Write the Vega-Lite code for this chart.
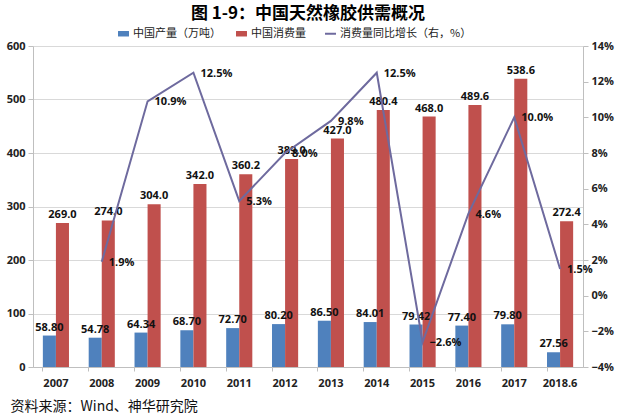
{
  "$schema": "https://vega.github.io/schema/vega-lite/v6.json",
  "width": 550,
  "height": 321,
  "autosize": {"type": "none"},
  "padding": {"left": 33, "top": 46, "right": 37, "bottom": 50},
  "background": "white",
  "title": {
    "text": "图 1-9：中国天然橡胶供需概况",
    "font": "Noto Sans CJK SC",
    "fontSize": 17,
    "fontWeight": "bold",
    "color": "#000000",
    "anchor": "middle",
    "frame": "group",
    "offset": 5
  },
  "config": {
    "view": {"stroke": null},
    "axis": {
      "labelFont": "Open Sans",
      "labelFontWeight": "bold",
      "labelFontSize": 11,
      "labelColor": "#222222",
      "domainColor": "#BFBFBF",
      "tickColor": "#BFBFBF"
    }
  },
  "datasets": {
    "bars": [
      {"year": "2007", "series": "中国产量（万吨）", "value": 58.80},
      {"year": "2007", "series": "中国消费量", "value": 269.0},
      {"year": "2008", "series": "中国产量（万吨）", "value": 54.78},
      {"year": "2008", "series": "中国消费量", "value": 274.0},
      {"year": "2009", "series": "中国产量（万吨）", "value": 64.34},
      {"year": "2009", "series": "中国消费量", "value": 304.0},
      {"year": "2010", "series": "中国产量（万吨）", "value": 68.70},
      {"year": "2010", "series": "中国消费量", "value": 342.0},
      {"year": "2011", "series": "中国产量（万吨）", "value": 72.70},
      {"year": "2011", "series": "中国消费量", "value": 360.2},
      {"year": "2012", "series": "中国产量（万吨）", "value": 80.20},
      {"year": "2012", "series": "中国消费量", "value": 389.0},
      {"year": "2013", "series": "中国产量（万吨）", "value": 86.50},
      {"year": "2013", "series": "中国消费量", "value": 427.0},
      {"year": "2014", "series": "中国产量（万吨）", "value": 84.01},
      {"year": "2014", "series": "中国消费量", "value": 480.4},
      {"year": "2015", "series": "中国产量（万吨）", "value": 79.42},
      {"year": "2015", "series": "中国消费量", "value": 468.0},
      {"year": "2016", "series": "中国产量（万吨）", "value": 77.40},
      {"year": "2016", "series": "中国消费量", "value": 489.6},
      {"year": "2017", "series": "中国产量（万吨）", "value": 79.80},
      {"year": "2017", "series": "中国消费量", "value": 538.6},
      {"year": "2018.6", "series": "中国产量（万吨）", "value": 27.56},
      {"year": "2018.6", "series": "中国消费量", "value": 272.4}
    ],
    "growth": [
      {"year": "2008", "growth": 0.019},
      {"year": "2009", "growth": 0.109},
      {"year": "2010", "growth": 0.125},
      {"year": "2011", "growth": 0.053},
      {"year": "2012", "growth": 0.080},
      {"year": "2013", "growth": 0.098},
      {"year": "2014", "growth": 0.125},
      {"year": "2015", "growth": -0.026},
      {"year": "2016", "growth": 0.046},
      {"year": "2017", "growth": 0.100},
      {"year": "2018.6", "growth": 0.015}
    ]
  },
  "encoding": {
    "x": {
      "field": "year",
      "type": "nominal",
      "sort": null,
      "scale": {
        "domain": ["2007", "2008", "2009", "2010", "2011", "2012", "2013", "2014", "2015", "2016", "2017", "2018.6"],
        "paddingInner": 0.43,
        "paddingOuter": 0.215
      },
      "axis": {
        "title": "资料来源：Wind、神华研究院",
        "titleFont": "Noto Sans CJK SC",
        "titleFontSize": 14,
        "titleFontWeight": "normal",
        "titleColor": "#111111",
        "titleAnchor": "start",
        "titleAlign": "left",
        "titleBaseline": "middle",
        "titleX": -23,
        "titleY": 39,
        "labelAngle": 0,
        "labelPadding": 6,
        "bandPosition": 0,
        "ticks": true,
        "tickSize": 4,
        "grid": false,
        "domainColor": "#BFBFBF"
      }
    }
  },
  "layer": [
    {
      "data": {"name": "bars"},
      "encoding": {
        "xOffset": {
          "field": "series",
          "type": "nominal",
          "sort": ["中国产量（万吨）", "中国消费量"],
          "scale": {"domain": ["中国产量（万吨）", "中国消费量"], "paddingInner": 0, "paddingOuter": 0}
        },
        "y": {
          "field": "value",
          "type": "quantitative",
          "scale": {"domain": [0, 600], "nice": false},
          "axis": {
            "title": null,
            "orient": "left",
            "values": [0, 100, 200, 300, 400, 500, 600],
            "grid": true,
            "gridColor": "#D9D9D9",
            "tickSize": 5,
            "labelPadding": 3,
            "domain": true
          }
        }
      },
      "layer": [
        {
          "mark": {"type": "bar"},
          "encoding": {
            "color": {
              "field": "series",
              "type": "nominal",
              "scale": {
                "domain": ["中国产量（万吨）", "中国消费量", "消费量同比增长（右，%）"],
                "range": ["#4F81BD", "#C0504D", "#6E6A9E"]
              },
              "legend": {
                "title": null,
                "orient": "none",
                "direction": "horizontal",
                "legendX": 85,
                "legendY": -18,
                "labelFont": "Noto Sans CJK SC",
                "labelFontSize": 11,
                "labelColor": "#222222",
                "columnPadding": 15,
                "labelOffset": 4,
                "symbolSize": 120,
                "encode": {
                  "symbols": {
                    "update": {
                      "shape": {"signal": "datum.value === '消费量同比增长（右，%）' ? 'M-1,0H1' : 'M-1,-0.5H1V0.5H-1Z'"},
                      "fill": {"signal": "datum.value === '消费量同比增长（右，%）' ? 'transparent' : scale('color', datum.value)"},
                      "stroke": {"signal": "scale('color', datum.value)"},
                      "strokeWidth": {"signal": "datum.value === '消费量同比增长（右，%）' ? 2 : 0"}
                    }
                  }
                }
              }
            }
          }
        },
        {
          "transform": [{"filter": "datum.series === '中国产量（万吨）'"}],
          "mark": {"type": "text", "baseline": "bottom", "dy": -3, "font": "Open Sans", "fontWeight": "bold", "fontSize": 11, "color": "#111111"},
          "encoding": {"text": {"field": "value", "type": "quantitative", "format": ".2f"}}
        },
        {
          "transform": [{"filter": "datum.series === '中国消费量'"}],
          "mark": {"type": "text", "baseline": "bottom", "dy": -3, "font": "Open Sans", "fontWeight": "bold", "fontSize": 11, "color": "#111111"},
          "encoding": {"text": {"field": "value", "type": "quantitative", "format": ".1f"}}
        }
      ]
    },
    {
      "data": {"name": "growth"},
      "encoding": {
        "y": {
          "field": "growth",
          "type": "quantitative",
          "scale": {"domain": [-0.04, 0.14], "nice": false, "zero": false},
          "axis": {
            "title": null,
            "orient": "right",
            "values": [-0.04, -0.02, 0, 0.02, 0.04, 0.06, 0.08, 0.1, 0.12, 0.14],
            "format": ".0%",
            "grid": false,
            "ticks": true,
            "tickSize": 5,
            "labelPadding": 3,
            "domain": true
          }
        }
      },
      "layer": [
        {
          "mark": {"type": "line", "strokeWidth": 2},
          "encoding": {
            "color": {"datum": "消费量同比增长（右，%）", "type": "nominal"}
          }
        },
        {
          "mark": {"type": "text", "align": "left", "baseline": "middle", "dx": 7, "dy": 1, "font": "Open Sans", "fontWeight": "bold", "fontSize": 11, "color": "#111111"},
          "encoding": {"text": {"field": "growth", "type": "quantitative", "format": ".1%"}}
        }
      ]
    }
  ],
  "resolve": {"scale": {"y": "independent"}}
}
